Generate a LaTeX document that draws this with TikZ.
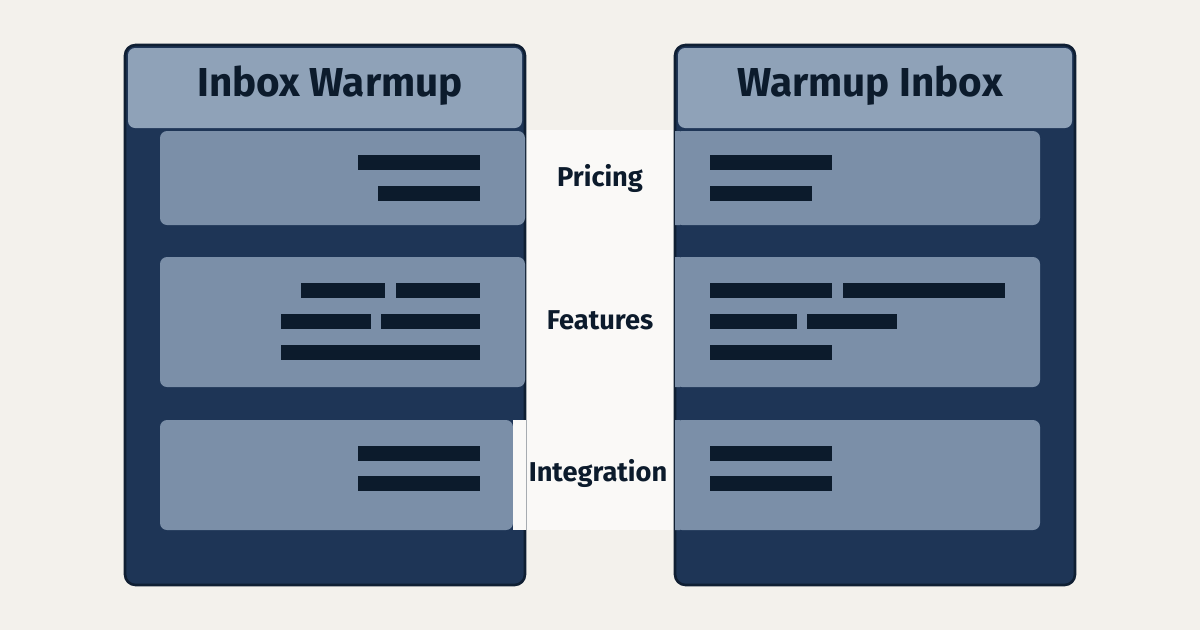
\documentclass[tikz,border=0pt]{standalone}
\usepackage{fontspec}
\setmainfont{Fira Sans}
\usetikzlibrary{positioning}
\definecolor{bgcream}{HTML}{F3F1EC}
\definecolor{panelnavy}{HTML}{1E3556}
\definecolor{edgenavy}{HTML}{0F1F33}
\definecolor{headgray}{HTML}{8FA2B8}
\definecolor{rowgray}{HTML}{7B8FA8}
\definecolor{barnavy}{HTML}{0C1B2C}
\tikzset{
  % Panel body
  panel/.style={draw=edgenavy, line width=1.5pt, fill=panelnavy, rounded corners=6pt},
  % Header band
  head/.style={fill=headgray},
  % Feature row
  row/.style={fill=rowgray},
  % Text line placeholder
  bar/.style={fill=barnavy},
  % Titles and labels
  title/.style={font=\fontsize{23}{26}\selectfont\bfseries, text=barnavy},
  label/.style={font=\fontsize{15.5}{18}\selectfont\bfseries, text=barnavy},
}
\begin{document}
\begin{tikzpicture}[x=0.02cm, y=-0.02cm]
  \useasboundingbox[fill=bgcream] (0,0) rectangle (1200,630);

  % middle band
  \fill[white!60!bgcream] (525,130) rectangle (675,530);

  % left panel
  \draw[panel] (125,45) rectangle (525,585);
  \fill[head, rounded corners=4pt] (128,48) -- (522,48) -- (522,128) -- (128,128) -- cycle;
  \fill[row, rounded corners=4pt] (160,131) -- (525,131) -- (525,225) -- (160,225) -- cycle;
  \fill[row, rounded corners=4pt] (160,257) -- (525,257) -- (525,387) -- (160,387) -- cycle;
  \fill[row, rounded corners=4pt] (160,420) -- (513,420) -- (513,530) -- (160,530) -- cycle;
  \fill[white!60!bgcream] (513,420) rectangle (526,530);

  % right panel
  \draw[panel] (675,45) rectangle (1075,585);
  \fill[head, rounded corners=4pt] (678,48) -- (1072,48) -- (1072,128) -- (678,128) -- cycle;
  \fill[row, rounded corners=4pt] (675,131) -- (1040,131) -- (1040,225) -- (675,225) -- cycle;
  \fill[row, rounded corners=4pt] (675,257) -- (1040,257) -- (1040,387) -- (675,387) -- cycle;
  \fill[row, rounded corners=4pt] (675,420) -- (1040,420) -- (1040,530) -- (675,530) -- cycle;
  \fill[rowgray] (675,131) rectangle (680,225) (675,257) rectangle (680,387) (675,420) rectangle (680,530);

  % text lines
  \foreach \xa/\xb/\ya in {358/480/155, 378/480/186,
      301/385/283, 396/480/283, 281/371/314, 381/480/314, 281/480/345,
      358/480/446, 358/480/476,
      710/832/155, 710/812/186,
      710/832/283, 843/1005/283, 710/797/314, 807/897/314, 710/832/345,
      710/832/446, 710/832/476}
    \fill[bar] (\xa,\ya) rectangle (\xb,\ya+15);

  % titles
  \node[title] (lefttitle) at (330,86) {Inbox Warmup};
  \node[title] (righttitle) at (870,86) {Warmup Inbox};

  % row labels
  \node[label] (pricing) at (600,178) {Pricing};
  \node[label] (features) at (600,320) {Features};
  \node[label] (integration) at (598,473) {Integration};
\end{tikzpicture}
\end{document}
